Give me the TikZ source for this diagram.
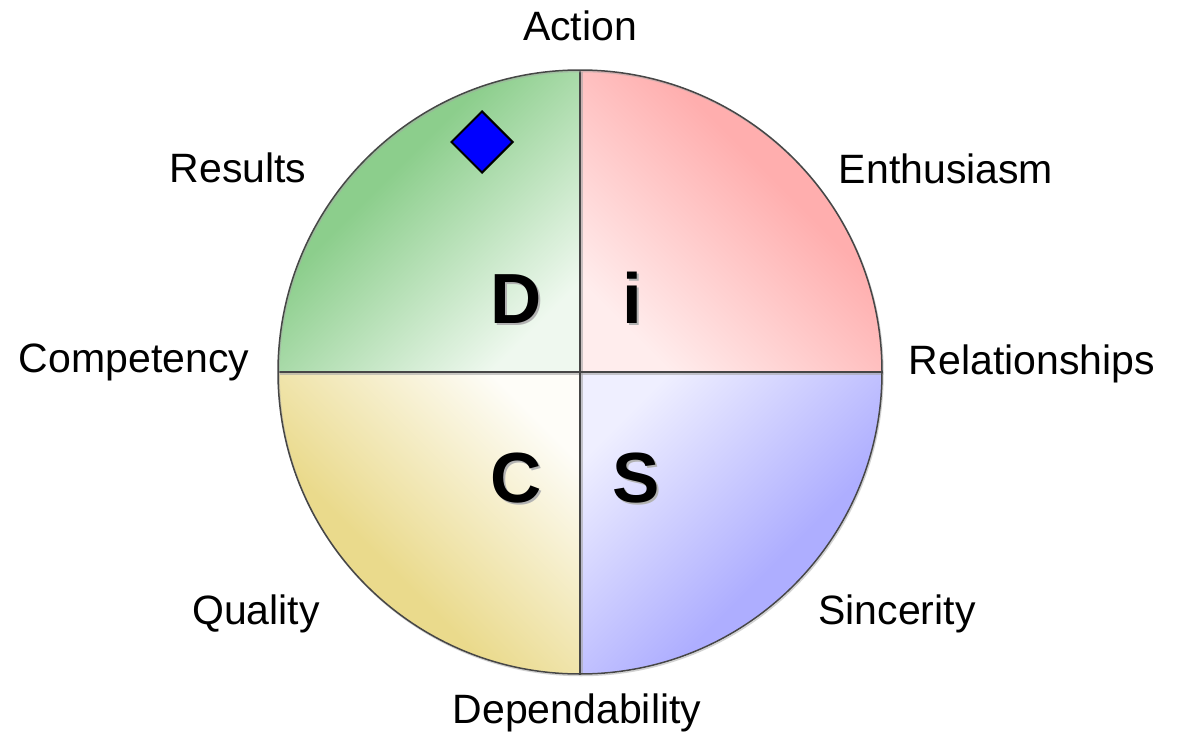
\documentclass[tikz,border=0pt]{standalone}
\usepackage{fontspec}
\setmainfont{Liberation Sans}
\usetikzlibrary{shapes.geometric}
\definecolor{discG}{RGB}{140,206,140}
\definecolor{discR}{RGB}{255,174,174}
\definecolor{discB}{RGB}{174,174,255}
\definecolor{discY}{RGB}{234,218,140}
\colorlet{discGl}{discG!14!white}
\colorlet{discRl}{discR!22!white}
\colorlet{discBl}{discB!20!white}
\colorlet{discYl}{discY!6!white}
\definecolor{lineC}{RGB}{70,70,70}
\pgfdeclareverticalshading{quadG}{100bp}{color(0bp)=(discGl); color(25bp)=(discGl); color(60bp)=(discG); color(100bp)=(discG)}
\pgfdeclareverticalshading{quadR}{100bp}{color(0bp)=(discRl); color(25bp)=(discRl); color(60bp)=(discR); color(100bp)=(discR)}
\pgfdeclareverticalshading{quadB}{100bp}{color(0bp)=(discBl); color(25bp)=(discBl); color(60bp)=(discB); color(100bp)=(discB)}
\pgfdeclareverticalshading{quadY}{100bp}{color(0bp)=(discYl); color(25bp)=(discYl); color(60bp)=(discY); color(100bp)=(discY)}
\tikzset{
  lbl/.style={anchor=base, inner sep=0pt, font=\fontsize{41}{48}\selectfont},
  bigl/.style={anchor=base, inner sep=0pt, font=\fontsize{71}{80}\selectfont\bfseries},
  bigs/.style={bigl, text=black!30},
  divider/.style={draw=lineC, line width=2pt},
  dshadow/.style={draw=black!35, line width=2pt, opacity=0.6},
  marker/.style={diamond, draw=black, fill=blue, line width=2pt, minimum width=62pt, minimum height=62pt, inner sep=0pt}
}
\begin{document}
\begin{tikzpicture}[x=1pt,y=-1pt]
\useasboundingbox (0,0) rectangle (1184,736);
\fill[white] (0,0) rectangle (1184,736);
\coordinate (c) at (580,372);
% quadrants
\begin{scope}
  \clip (c) circle (302);
  \shade[shading=quadG, shading angle=45] (278,70) rectangle (580,372);
  \shade[shading=quadR, shading angle=-45] (580,70) rectangle (882,372);
  \shade[shading=quadB, shading angle=-135] (580,372) rectangle (882,674);
  \shade[shading=quadY, shading angle=135] (278,372) rectangle (580,674);
  \coordinate (top) at (580,70);
  \coordinate (bot) at (580,674);
  \coordinate (lft) at (278,372);
  \coordinate (rgt) at (882,372);
  \draw[dshadow] ([shift={(1.5,1.5)}]top) -- ([shift={(1.5,1.5)}]bot);
  \draw[dshadow] ([shift={(1.5,1.5)}]lft) -- ([shift={(1.5,1.5)}]rgt);
  \draw[divider] (top) -- (bot);
  \draw[divider] (lft) -- (rgt);
\end{scope}
\draw[draw=black!35, line width=1.5pt, opacity=0.5] ([shift={(1,1.5)}]c) circle (302);
\draw[draw=lineC, line width=1.5pt] (c) circle (302);
% letters
\node[bigs] (Ds) at (518,325) {D};
\node[bigl] (D) at (516,323) {D};
\node[bigs] (is) at (634,325) {i};
\node[bigl] (i) at (632,323) {i};
\node[bigs] (Cs) at (518,504) {C};
\node[bigl] (C) at (516,502) {C};
\node[bigs] (Ss) at (638,504) {S};
\node[bigl] (S) at (636,502) {S};
% marker
\node[marker] (mk) at (482,142) {};
% labels
\node[lbl] (action) at (580,40) {Action};
\node[lbl] (results) at (238,182) {Results};
\node[lbl] (enth) at (946,183) {Enthusiasm};
\node[lbl] (comp) at (134,372) {Competency};
\node[lbl] (rel) at (1032,374) {Relationships};
\node[lbl] (qual) at (256,624) {Quality};
\node[lbl] (sinc) at (897,624) {Sincerity};
\node[lbl] (dep) at (577,723) {Dependability};
\end{tikzpicture}
\end{document}
